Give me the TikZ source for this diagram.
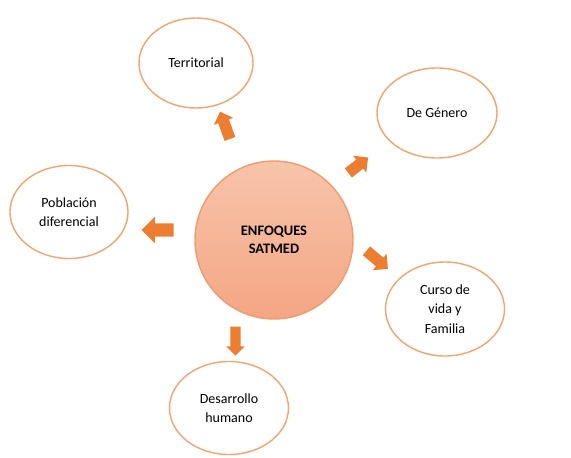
\documentclass[tikz,border=0pt]{standalone}
\usepackage{fontspec}
\setmainfont{Carlito}
\usetikzlibrary{shapes.arrows,shapes.geometric}
\definecolor{ringc}{RGB}{244,164,110}
\definecolor{arrc}{RGB}{237,125,49}
\definecolor{ctop}{RGB}{247,196,170}
\definecolor{cbot}{RGB}{244,166,132}
\definecolor{cring}{RGB}{240,155,110}
\tikzset{
  bubble/.style={ellipse, draw=ringc, line width=1.4pt, fill=white, align=center, font=\fontsize{14}{19.5}\selectfont, inner sep=0pt},
  blockarrow/.style 2 args={single arrow, fill=arrc, draw=none, single arrow head extend=#1, inner xsep=0pt, inner ysep=#2, minimum width=0pt, single arrow tip angle=90},
}
\begin{document}
\begin{tikzpicture}[x=1pt,y=-1pt]
\useasboundingbox (0,0) rectangle (571,458);
\node[circle, minimum size=158pt, top color=ctop, bottom color=cbot, draw=cring, line width=1.4pt, align=center, font=\fontsize{14.5}{18.5}\selectfont\bfseries, inner sep=0pt] (c) at (274,240) {ENFOQUES\\SATMED};
\node[bubble, minimum width=114pt, minimum height=90pt] (t) at (196,63) {Territorial};
\node[bubble, minimum width=120pt, minimum height=90pt] (g) at (437,113) {De Género};
\node[bubble, minimum width=118pt, minimum height=93pt] (p) at (69,212) {Población\\diferencial};
\node[bubble, minimum width=119pt, minimum height=94pt] (f) at (445,309) {Curso de\\vida y\\Familia};
\node[bubble, minimum width=119pt, minimum height=93pt] (d) at (229,408) {Desarrollo\\humano};
% block arrows
\node[blockarrow={4.5pt}{5.5pt}, minimum height=29pt, rotate=110] (at) at (226,128) {};
\node[blockarrow={5pt}{5.5pt}, minimum height=25pt, rotate=38] (ag) at (356,167) {};
\node[blockarrow={6.5pt}{6.5pt}, minimum height=32pt, rotate=180] (ap) at (161,230) {};
\node[blockarrow={5pt}{5.5pt}, minimum height=28pt, rotate=-40] (af) at (375,258) {};
\node[blockarrow={4pt}{5pt}, minimum height=29pt, rotate=-90] (ad) at (235.5,338.5) {};
\end{tikzpicture}
\end{document}
